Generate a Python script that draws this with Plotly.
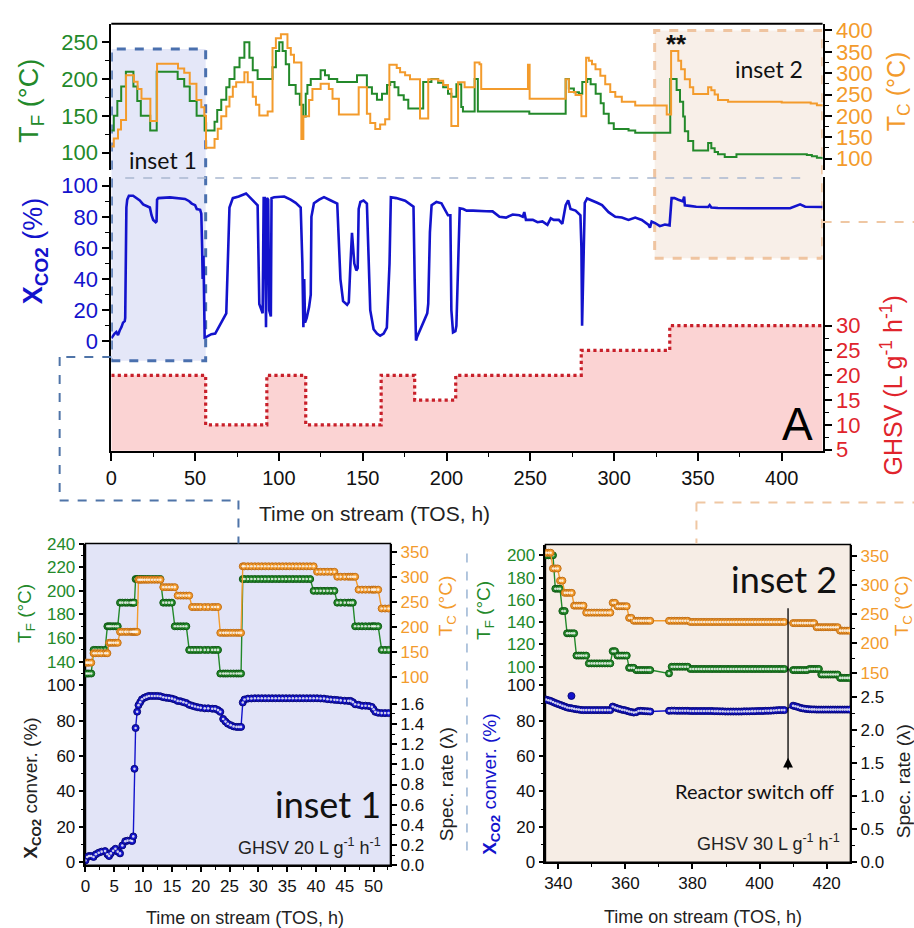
import plotly.graph_objects as go

W, H = 914, 928


def fx(p):
    return p / W


def fy(p):
    return 1 - p / H


SANS = "Liberation Sans, Arial, sans-serif"
HUM = "Lato, Open Sans, sans-serif"

GREEN = "#23892a"
ORANGE = "#f39b2c"
BLUE = "#1313cc"
RED = "#e0242c"
DOTRED = "#c8202a"

# ---------------- main panel: furnace temperature T_F (step changes) ----------------
TF_T = [0, 1.5, 3.6, 5.9, 8.7, 13.2, 15.5, 17.6, 23.2, 27.1,
        39.6, 43.5, 46.8, 50.9, 55.7, 61.6, 63.2, 65.6, 68.6, 70.5,
        73.5, 76.5, 79.4, 82.4, 84.4, 87.3, 96.2, 98.2, 100.2, 102.2,
        104.1, 106.1, 110.0, 112.5, 114.5, 116.0, 117.0, 119.0, 124.9, 127.5,
        129.8, 134.8, 146.6, 152.5, 155.5, 158.5, 161.5, 164.5, 166.4, 169.0,
        171.3, 174.5, 177.2, 186.1, 191.0, 195.0, 198.0, 200.9, 202.9, 205.9,
        208.8, 209.8, 216.8, 218.7, 249.4, 271.1, 273.0, 276.0, 279.0, 281.0,
        284.0, 286.0, 289.0, 292.0, 293.8, 296.8, 299.8, 308.6, 312.6, 333.5,
        337.3, 339.3, 341.2, 342.2, 344.2, 347.2, 356.1, 358.0, 360.0, 362.0,
        366.0, 373.0, 415.0, 418.0, 421.0, 424.4]
TF_V = [130, 150, 170, 190, 210, 190, 170, 150, 130, 210,
        200, 190, 170, 150, 130, 142, 158, 172, 189, 200,
        216, 229, 250, 229, 212, 200, 216, 238, 250, 238,
        220, 192, 180, 165, 149, 180, 192, 200, 212, 205,
        200, 196, 205, 189, 180, 172, 180, 192, 196, 189,
        178, 172, 160, 196, 200, 195, 189, 180, 176, 193,
        162, 156, 200, 156, 153, 200, 187, 182, 180, 196,
        200, 193, 180, 167, 153, 140, 132, 130, 127, 200,
        185, 169, 149, 129, 116, 103, 113, 106, 101, 98,
        94, 98, 97, 95, 93, 91]

# ---------------- main panel: catalyst temperature T_C ----------------
TC_T = [0, 1.5, 4.0, 5.8, 8.8, 13.5, 15.7, 18.0, 23.3, 27.3,
        39.8, 43.5, 46.8, 50.8, 53.7, 55.5, 56.5, 61.6, 63.5, 65.6,
        68.6, 70.5, 72.5, 74.5, 79.4, 81.4, 84.4, 86.3, 88.3, 93.3,
        96.2, 98.2, 101.2, 105.1, 107.1, 109.0, 113.4, 114.6, 118.0, 120.0,
        124.9, 129.8, 132.0, 135.8, 147.6, 152.5, 154.5, 157.5, 160.4, 163.4,
        165.9, 170.3, 172.3, 175.3, 178.2, 184.2, 189.1, 195.0, 198.0, 200.9,
        202.9, 206.9, 210.8, 216.8, 219.7, 220.7, 248.6, 249.6, 271.1, 273.0,
        277.0, 280.5, 283.3, 284.9, 286.8, 288.9, 291.8, 294.7, 297.7, 300.7,
        304.6, 312.6, 331.4, 334.0, 338.3, 340.0, 342.2, 345.2, 347.2, 356.1,
        358.0, 360.0, 362.0, 368.0, 400.0, 417.3, 421.0, 424.4]
TC_V = [128, 147, 168, 190, 295, 280, 263, 240, 188, 322,
        311, 301, 275, 237, 220, 200, 125, 146, 170, 199,
        222, 245, 268, 279, 302, 279, 245, 226, 201, 210,
        359, 382, 391, 359, 343, 325, 146, 199, 237, 263,
        275, 263, 240, 203, 267, 205, 183, 169, 180, 192,
        320, 312, 302, 295, 286, 194, 286, 282, 272, 263,
        176, 279, 267, 325, 321, 263, 320, 240, 286, 256,
        249, 199, 336, 329, 321, 309, 294, 274, 256, 245,
        233, 224, 203, 352, 329, 309, 286, 267, 251, 267,
        260, 250, 237, 233, 231, 229, 225, 222]

# ---------------- main panel: CO2 conversion ----------------
XM_T = [0, 1, 2, 3, 4, 5, 6, 7, 8, 8.3,
        8.5, 8.7, 9.0, 9.5, 10.5, 13, 15, 17, 19, 21,
        23, 24, 25, 26.5, 27.0, 27.3, 28, 35, 40, 44,
        46.5, 48, 50, 51, 53, 53.7, 54.2, 54.5, 55.0, 55.5,
        55.7, 57, 59.7, 62, 64.6, 66.5, 68.6, 69.5, 70.5, 72.5,
        76, 80.4, 84, 87.3, 88.3, 90.3, 90.9, 91.6, 92.3, 92.9,
        93.6, 94.2, 95.2, 95.6, 97.2, 103.2, 107, 110, 113, 114,
        114.6, 115.1, 115.6, 116.6, 118, 119, 119.4, 120.9, 124, 126.9,
        131, 134.8, 136.7, 138.3, 140.7, 141.7, 142.7, 143.6, 145, 146.2,
        147, 147.6, 148.6, 150.5, 152.5, 153.5, 154.5, 156.5, 158.5, 160.4,
        162.5, 164.4, 166, 166.8, 170, 175.3, 178, 180.3, 181, 181.8,
        182.5, 185.2, 186.1, 188.5, 189.1, 190.1, 191.1, 194, 197, 200.9,
        202.3, 202.9, 203.9, 205.3, 205.9, 206.9, 207.9, 210, 212, 215.8,
        220, 223.7, 227.5, 231.6, 235.5, 239.5, 243.5, 245.5, 246.4, 247.4,
        251.5, 254.3, 257.2, 260.2, 262.2, 264, 267, 269.1, 271.1, 272.6,
        274, 277, 279.9, 280.5, 280.9, 281.7, 282.5, 283.9, 287, 289.9,
        292.8, 296.7, 300.7, 304.6, 308.6, 310.6, 312.6, 316.5, 320.4, 321.4,
        322.4, 324.4, 327.3, 330.3, 333.1, 334.3, 336, 338.3, 341, 341.8,
        342.2, 345, 349, 356.1, 357, 358, 362, 380, 405, 411,
        414, 424.4]
XM_V = [2, 4, 5, 6, 4, 7, 9, 12, 13, 15,
        53, 76, 86, 91, 93.5, 93.5, 92, 90.5, 88, 87,
        86, 81, 78, 76.5, 77, 91, 92, 92.5, 92, 91.5,
        90, 88.5, 87.5, 85, 84.5, 82, 60, 40, 55, 10,
        2.5, 3, 4.6, 5, 10, 13, 18, 50, 86, 92,
        93, 95, 91, 87.4, 24, 18, 92, 92, 9, 92,
        91, 20, 16, 92, 92.6, 93, 91, 89, 86, 50,
        9, 40, 12, 15, 22, 30, 80, 88.7, 91, 92.6,
        90.5, 88.5, 40, 25.8, 23.5, 25, 50, 69.7, 50, 45.5,
        47, 85, 89.5, 90.5, 88.5, 50, 20, 7.8, 5, 3.6,
        5, 8.8, 50, 92.6, 92, 90.3, 88.5, 86.5, 40, 0.5,
        3, 10, 12, 18, 24, 70, 87.4, 89.5, 88.7, 81,
        81, 20, 5.7, 6.5, 10, 50, 85.5, 85, 84, 84,
        84, 83.6, 83.5, 80, 79.5, 81.5, 81, 80, 83, 78,
        78, 76.5, 77, 74.8, 79, 78, 78, 75.5, 87.4, 90.6,
        85, 84, 81, 60, 10, 50, 89, 91.8, 90.5, 89,
        87.5, 83, 80, 79.5, 78, 79, 79.5, 78, 75, 73,
        77, 76, 74, 75, 74.5, 92, 92, 91, 90, 93,
        87.4, 87, 86.5, 86.3, 87.5, 86, 85.7, 85.5, 85.5, 88,
        86.5, 86.3]

# ---------------- main panel: GHSV program ----------------
GHSV_T = [0, 56.3, 92.8, 116, 161, 181, 205.5, 280.4, 333.2, 424.4]
GHSV_V = [20, 10, 20, 10, 20, 15, 20, 25, 30, 30]

# ---------------- inset 1 (0-53 h, GHSV 20) ----------------
X1_T = [0.0, 0.3, 0.6, 1.0, 1.4, 1.8, 2.3, 2.8, 3.4, 3.8,
        4.1, 4.4, 4.8, 5.2, 5.6, 6.0, 6.4, 6.9, 7.3, 7.8,
        8.1, 8.3, 8.5, 8.7, 8.97, 9.2, 9.5, 9.8, 10.2, 10.6,
        11.0, 11.5, 12.0, 12.5, 13.0, 13.5, 14.0, 14.5, 15.0, 15.5,
        16.0, 16.5, 17.0, 17.5, 18.0, 18.5, 19.0, 19.5, 20.0, 20.7,
        21.3, 22.0, 22.5, 23.0, 23.4, 23.9, 24.3, 24.7, 25.2, 25.7,
        26.2, 26.6, 27.0, 27.3, 27.6, 28.2, 28.8, 29.4, 30.0, 30.6,
        31.2, 31.8, 32.4, 33.0, 33.6, 34.2, 34.8, 35.4, 36.0, 36.6,
        37.2, 37.8, 38.4, 39.0, 39.6, 40.2, 40.8, 41.4, 42.0, 42.6,
        43.2, 43.7, 44.3, 45.0, 45.6, 46.0, 46.4, 46.8, 47.4, 48.0,
        48.6, 49.2, 49.7, 50.0, 50.3, 50.8, 51.4, 52.0, 52.6]
X1_V = [1.0, 3.0, 3.5, 3.5, 3.0, 4.5, 5.4, 6.0, 6.3, 4.5,
        3.5, 5.0, 6.5, 7.6, 6.0, 5.0, 9.5, 11.9, 12.2, 12.3,
        12.0, 14.6, 52.8, 75.9, 85.1, 88.8, 90.5, 92.1, 93.0, 93.5,
        94.0, 94.0, 94.0, 94.0, 93.8, 93.3, 93.0, 92.8, 92.5, 92.0,
        91.2, 91.0, 90.5, 90.0, 89.0, 88.5, 88.0, 87.6, 87.3, 87.0,
        87.0, 86.8, 86.7, 86.0, 85.0, 81.0, 79.5, 78.3, 77.5, 76.8,
        76.5, 76.5, 76.5, 90.3, 92.0, 92.5, 92.6, 92.7, 92.7, 92.7,
        92.7, 92.7, 92.7, 92.7, 92.7, 92.7, 92.7, 92.7, 92.7, 92.7,
        92.7, 92.7, 92.7, 92.7, 92.7, 92.7, 92.6, 92.5, 92.2, 92.0,
        91.8, 91.7, 91.5, 91.3, 91.2, 91.2, 90.5, 89.3, 89.0, 88.5,
        88.5, 88.3, 87.8, 86.5, 85.0, 84.5, 84.3, 84.3, 84.3]
TF1_START = [0, 1.4, 3.6, 6.0, 8.7, 13.3, 15.5, 17.6, 23.2, 27.2, 39.5, 43.5, 46.8, 50.9]
TF1_LEVEL = [130, 150, 170, 190, 210, 190, 170, 150, 130, 210, 200, 190, 170, 150]
TC1_START = [0, 1.4, 3.9, 5.9, 9.0, 13.5, 15.9, 18.2, 23.4, 27.3, 39.8, 43.6, 47.0, 51.1]
TC1_LEVEL = [128, 147, 168, 190, 295, 280, 263, 240, 188, 322, 311, 301, 275, 237]

# ---------------- inset 2 (336-427 h, GHSV 30) ----------------
X2_T = [336.3, 337.0, 337.7, 338.4, 339.1, 339.8, 340.5, 341.2, 341.9, 342.6,
        343.3, 344.0, 344.7, 345.4, 346.1, 346.8, 347.5, 348.3, 349.1, 349.9,
        350.7, 351.5, 352.3, 353.1, 353.9, 354.7, 355.5, 356.2, 356.9, 357.6,
        358.3, 359.0, 359.7, 360.4, 361.1, 361.8, 362.5, 363.2, 363.9, 364.6,
        365.3, 366.0, 366.7, 367.4, 373.0, 373.8, 374.6, 375.4, 376.2, 377.0,
        377.8, 378.6, 379.4, 380.2, 381.0, 381.8, 382.6, 383.4, 384.2, 385.0,
        385.8, 386.6, 387.4, 388.2, 389.0, 389.8, 390.6, 391.4, 392.2, 393.0,
        393.8, 394.6, 395.4, 396.2, 397.0, 397.8, 398.6, 399.4, 400.2, 401.0,
        401.8, 402.6, 403.4, 404.2, 405.0, 405.8, 406.6, 407.4, 410.0, 410.7,
        411.4, 412.1, 412.8, 413.5, 414.2, 414.9, 415.6, 416.3, 417.0, 417.7,
        418.4, 419.1, 419.8, 420.5, 421.2, 421.9, 422.6, 423.3, 424.0, 424.7,
        425.4, 426.1, 426.8]
X2_V = [92.0, 91.6, 91.2, 90.6, 90.0, 89.5, 89.0, 88.5, 88.0, 87.5,
        87.2, 87.0, 86.7, 86.5, 86.3, 86.1, 86.0, 86.0, 86.0, 86.0,
        86.0, 86.0, 86.0, 86.0, 86.0, 86.0, 86.0, 88.0, 87.5, 87.0,
        86.6, 86.2, 86.0, 85.6, 85.2, 84.9, 84.6, 84.8, 85.5, 85.6,
        85.5, 85.4, 85.3, 85.2, 85.6, 85.7, 85.7, 85.6, 85.6, 85.6,
        85.6, 85.6, 85.5, 85.5, 85.5, 85.5, 85.5, 85.5, 85.5, 85.5,
        85.5, 85.4, 85.4, 85.3, 85.3, 85.2, 85.2, 85.2, 85.2, 85.2,
        85.2, 85.2, 85.3, 85.3, 85.3, 85.4, 85.4, 85.5, 85.5, 85.5,
        85.6, 85.6, 85.7, 85.8, 85.9, 86.0, 86.0, 86.0, 88.5, 88.2,
        87.8, 87.3, 87.0, 86.8, 86.6, 86.5, 86.4, 86.4, 86.3, 86.3,
        86.3, 86.3, 86.3, 86.3, 86.3, 86.3, 86.3, 86.3, 86.3, 86.3,
        86.3, 86.3, 86.3]
X2_OUTLIER_T = [343.9]
X2_OUTLIER_V = [94.0]
TF2_START = [336.0, 338.9, 340.6, 342.2, 345.0, 348.6, 356.0, 357.2, 361.0, 363.0,
             372.5, 373.5, 379.0, 409.5, 414.5, 418.0, 423.5]
TF2_LEVEL = [200, 170, 150, 130, 110, 103, 114, 110, 99, 97,
             94, 100, 98, 97, 98, 93, 90]
TC2_START = [336.0, 338.2, 340.0, 341.6, 344.5, 348.3, 356.0, 357.0, 360.8, 362.5,
             372.5, 379.0, 409.5, 417.0, 423.5]
TC2_LEVEL = [356, 329, 308, 287, 265, 253, 270, 264, 244, 239,
             239, 237, 235, 228, 222]
SWITCH_OFF_T = 408.5


def level_at(t, starts, levels):
    """Set-point level in force at time t for a step programme."""
    val = levels[0]
    for s, v in zip(starts, levels):
        if t >= s:
            val = v
    return val


TF1_V = [level_at(t, TF1_START, TF1_LEVEL) for t in X1_T]
TC1_V = [level_at(t, TC1_START, TC1_LEVEL) for t in X1_T]
TF2_V = [level_at(t, TF2_START, TF2_LEVEL) for t in X2_T]
TC2_V = [level_at(t, TC2_START, TC2_LEVEL) for t in X2_T]

fig = go.Figure()

# ---- main panel traces ----
fig.add_trace(go.Scatter(x=GHSV_T, y=GHSV_V, xaxis="x", yaxis="y4", mode="lines",
                         line=dict(color=DOTRED, width=3.2, dash="dot", shape="hv"),
                         fill="tozeroy", fillcolor="#fbd3d3", hoverinfo="skip"))
fig.add_trace(go.Scatter(x=TF_T, y=TF_V, xaxis="x", yaxis="y", mode="lines",
                         line=dict(color=GREEN, width=2, shape="hv"), hoverinfo="skip"))
fig.add_trace(go.Scatter(x=TC_T, y=TC_V, xaxis="x", yaxis="y3", mode="lines",
                         line=dict(color=ORANGE, width=2, shape="hv"), hoverinfo="skip"))
fig.add_trace(go.Scatter(x=XM_T, y=XM_V, xaxis="x", yaxis="y2", mode="lines",
                         line=dict(color=BLUE, width=2.6), hoverinfo="skip"))


def beads(t, v, color, edge, xa, ya):
    """Connected bead markers: a coloured ball with a pale highlight."""
    fig.add_trace(go.Scatter(x=t, y=v, xaxis=xa, yaxis=ya, mode="lines+markers",
                             line=dict(color=color, width=1.4),
                             marker=dict(size=7, color=color, line=dict(color=edge, width=1)),
                             hoverinfo="skip"))
    fig.add_trace(go.Scatter(x=t, y=v, xaxis=xa, yaxis=ya, mode="markers",
                             marker=dict(size=2.6, color="rgba(255,255,255,0.8)"),
                             hoverinfo="skip"))


# ---- inset 1 ----
beads(X1_T, TF1_V, GREEN, "#0f5a14", "x2", "y5")
beads(X1_T, TC1_V, ORANGE, "#c26f16", "x2", "y7")
beads(X1_T, X1_V, BLUE, "#08087a", "x2", "y6")
fig.add_trace(go.Scatter(x=[], y=[], xaxis="x2", yaxis="y8", mode="markers", hoverinfo="skip"))

# ---- inset 2 ----
beads(X2_T, TF2_V, GREEN, "#0f5a14", "x3", "y9")
beads(X2_T, TC2_V, ORANGE, "#c26f16", "x3", "y11")
beads(X2_T, X2_V, BLUE, "#08087a", "x3", "y10")
fig.add_trace(go.Scatter(x=X2_OUTLIER_T, y=X2_OUTLIER_V, xaxis="x3", yaxis="y10", mode="markers",
                         marker=dict(size=7, color=BLUE, line=dict(color="#08087a", width=1)),
                         hoverinfo="skip"))
fig.add_trace(go.Scatter(x=[], y=[], xaxis="x3", yaxis="y12", mode="markers", hoverinfo="skip"))


def ax(**kw):
    base = dict(showgrid=False, zeroline=False, showline=True, linecolor="black", linewidth=2,
                ticks="outside", tickcolor="black", tickwidth=1.5, ticklen=7,
                tickfont=dict(family=SANS, size=21, color="black"))
    base.update(kw)
    return base


def minor(vals, length=4):
    return dict(tickvals=vals, ticks="outside", ticklen=length, tickcolor="black", tickwidth=1.3)


def tfont(color, size=21):
    return dict(family=SANS, size=size, color=color)


MAIN_X = [fx(106), fx(822)]
TOP_DOM = [fy(165), fy(15)]
BOT_DOM = [fy(452), fy(172)]

IN1_X = [fx(80), fx(387)]
IN1_TOP = [fy(692), fy(547)]
IN1_BOT = [fy(876), fy(692)]
IN2_X = [fx(543), fx(850)]
IN2_TOP = [fy(692), fy(548)]
IN2_BOT = [fy(873), fy(692)]

layout = dict(
    width=W, height=H, margin=dict(l=0, r=0, t=0, b=0),
    paper_bgcolor="white", plot_bgcolor="rgba(0,0,0,0)", showlegend=False,
    xaxis=ax(domain=MAIN_X, range=[0, 424.4], anchor="y2", tickvals=list(range(0, 401, 50)),
             minor=minor(list(range(25, 400, 50))), tickfont=tfont("#111", 20), ticklen=8),
    yaxis=ax(domain=TOP_DOM, range=[76.1, 275.2], anchor="x", tickvals=[100, 150, 200, 250],
             minor=minor([125, 175, 225]), tickfont=tfont(GREEN, 22)),
    yaxis3=ax(overlaying="y", side="right", anchor="x", range=[72.5, 416],
              tickvals=[100, 150, 200, 250, 300, 350, 400],
              minor=minor([125, 175, 225, 275, 325, 375]), tickfont=tfont(ORANGE, 22)),
    yaxis2=ax(domain=BOT_DOM, range=[-70.3, 105.5], anchor="x", tickvals=[0, 20, 40, 60, 80, 100],
              minor=minor([10, 30, 50, 70, 90]), tickfont=tfont(BLUE, 22)),
    yaxis4=ax(overlaying="y2", side="right", anchor="x", range=[4.8, 59.9],
              tickvals=[5, 10, 15, 20, 25, 30], minor=minor([7.5, 12.5, 17.5, 22.5, 27.5]),
              tickfont=tfont(RED, 22)),
    # inset 1
    xaxis2=ax(domain=IN1_X, range=[0, 52.93], anchor="y6", linewidth=1.5,
              tickvals=list(range(0, 51, 5)), minor=minor([2.5 + 5 * i for i in range(11)], 3),
              tickfont=tfont("#111", 17), ticklen=5),
    yaxis5=ax(domain=IN1_TOP, range=[120, 240], anchor="x2", linewidth=1.5, ticklen=5,
              tickvals=[120, 140, 160, 180, 200, 220, 240],
              ticktext=["", "140", "160", "180", "200", "220", "240"],
              minor=minor([130, 150, 170, 190, 210, 230], 3), tickfont=tfont(GREEN, 17)),
    yaxis6=ax(domain=IN1_BOT, range=[-1.66, 100], anchor="x2", linewidth=1.5, ticklen=5,
              tickvals=[0, 20, 40, 60, 80, 100], minor=minor([10, 30, 50, 70, 90], 3),
              tickfont=tfont("#111", 17)),
    yaxis7=ax(overlaying="y5", side="right", anchor="x2", range=[82.3, 367.7], linewidth=1.5,
              ticklen=5, tickvals=[100, 150, 200, 250, 300, 350],
              minor=minor([125, 175, 225, 275, 325], 3), tickfont=tfont(ORANGE, 17)),
    yaxis8=ax(overlaying="y6", side="right", anchor="x2", range=[0, 1.784], linewidth=1.5,
              ticklen=5, tickvals=[0.2 * i for i in range(9)], tickformat=".1f",
              minor=minor([0.1 + 0.2 * i for i in range(8)], 3), tickfont=tfont("#111", 17)),
    # inset 2
    xaxis3=ax(domain=IN2_X, range=[336.15, 427.1], anchor="y10", linewidth=1.5,
              tickvals=[340, 360, 380, 400, 420], minor=minor([350, 370, 390, 410], 3),
              tickfont=tfont("#111", 17), ticklen=5),
    yaxis9=ax(domain=IN2_TOP, range=[83.3, 209.6], anchor="x3", linewidth=1.5, ticklen=5,
              tickvals=[100, 120, 140, 160, 180, 200], minor=minor([90, 110, 130, 150, 170, 190], 3),
              tickfont=tfont(GREEN, 17)),
    yaxis10=ax(domain=IN2_BOT, range=[0, 100], anchor="x3", linewidth=1.5, ticklen=5,
               tickvals=[0, 20, 40, 60, 80, 100], minor=minor([10, 30, 50, 70, 90], 3),
               tickfont=tfont("#111", 17)),
    yaxis11=ax(overlaying="y9", side="right", anchor="x3", range=[128, 370], linewidth=1.5,
               ticklen=5, tickvals=[150, 200, 250, 300, 350], minor=minor([175, 225, 275, 325], 3),
               tickfont=tfont(ORANGE, 17)),
    yaxis12=ax(overlaying="y10", side="right", anchor="x3", range=[0, 2.68], linewidth=1.5,
               ticklen=5, tickvals=[0, 0.5, 1.0, 1.5, 2.0, 2.5], tickformat=".1f",
               minor=minor([0.25, 0.75, 1.25, 1.75, 2.25], 3), tickfont=tfont("#111", 17)),
)

shapes = []


def pline(x0, y0, x1, y1, color, width=2, dash="dash"):
    shapes.append(dict(type="line", xref="paper", yref="paper", x0=fx(x0), y0=fy(y0),
                       x1=fx(x1), y1=fy(y1), line=dict(color=color, width=width, dash=dash)))


# highlighted regions in the main panel
shapes.append(dict(type="rect", xref="x", yref="paper", x0=0, x1=56.3, y0=fy(360), y1=fy(41),
                   fillcolor="#e4e7f8", line=dict(color="#4a70ae", width=3, dash="dash"),
                   layer="below"))
shapes.append(dict(type="rect", xref="x", yref="paper", x0=324.2, x1=424.4, y0=fy(255), y1=fy(22),
                   fillcolor="#f8efe8", line=dict(color="#efc4a0", width=3, dash="dash"),
                   layer="below"))
# inset frames
shapes.append(dict(type="rect", xref="paper", yref="paper", x0=fx(80), x1=fx(387), y0=fy(876),
                   y1=fy(547), fillcolor="#e2e4f7", line=dict(color="black", width=1.5),
                   layer="below"))
shapes.append(dict(type="rect", xref="paper", yref="paper", x0=fx(543), x1=fx(850), y0=fy(873),
                   y1=fy(548), fillcolor="#f6ede5", line=dict(color="black", width=1.5),
                   layer="below"))
# top border of the main panel
pline(106, 15, 822, 15, "black", 2, "solid")
# separator between temperature and conversion panels
pline(120, 173, 800, 173, "#a9b8cf", 1.5, "dash")
# connectors to inset 1
for seg in [(106, 356, 54, 356), (54, 356, 54, 503), (54, 503, 234, 503), (234, 503, 234, 547)]:
    pline(*seg, "#4f74a8", 2, "dash")
# connectors to inset 2
for seg in [(822, 218, 914, 218), (695, 505, 914, 505), (695, 505, 695, 547)]:
    pline(*seg, "#efc7a3", 2, "dash")
# divider between the insets
pline(464, 557, 464, 862, "#9ab4d4", 1.5, "dash")
# reactor switch-off marker
shapes.append(dict(type="line", xref="x3", yref="paper", x0=SWITCH_OFF_T, x1=SWITCH_OFF_T,
                   y0=fy(613), y1=fy(778), line=dict(color="black", width=1.3)))
layout["shapes"] = shapes

annotations = []


def note(text, x, y, size, color="black", family=SANS, angle=0, **kw):
    annotations.append(dict(text=text, xref="paper", yref="paper", x=fx(x), y=fy(y),
                            xanchor="center", yanchor="middle", showarrow=False,
                            textangle=angle, font=dict(family=family, size=size, color=color), **kw))


# main panel labels
note("T<sub>F</sub> (°C)", 25, 94, 27, GREEN, angle=-90)
note("<b>X<sub>CO2</sub></b> (%)", 30, 248, 27, BLUE, angle=-90)
note("T<sub>C</sub> (°C)", 898, 84, 25, ORANGE, angle=-90)
note("GHSV (L g<sup>-1</sup> h<sup>-1</sup>)", 892, 385, 25, RED, angle=-90)
note("Time on stream (TOS, h)", 371, 516, 21, "#222")
note("inset 1", 158, 154, 23, "#111", HUM)
note("inset 2", 768, 61, 23, "#111", HUM)
note("<b>**</b>", 675, 36, 26, "#111", SANS)
note("A", 797, 425, 46, "black", SANS)

# inset 1 labels
note("T<sub>F</sub> (°C)", 20, 618, 19, GREEN, angle=-90)
note("<b>X<sub>CO2</sub></b> conver. (%)", 26, 797, 19, "#222", angle=-90)
note("T<sub>C</sub> (°C)", 444, 611, 19, ORANGE, angle=-90)
note("Spec. rate (λ)", 443, 793, 19, "#222", angle=-90)
note("inset 1", 324, 813, 36, "#111", HUM)
note("GHSV 20 L g<sup>-1</sup> h<sup>-1</sup>", 306, 857, 18, "#222")
note("Time on stream (TOS, h)", 241, 930, 18, "#222")

# inset 2 labels
note("T<sub>F</sub> (°C)", 482, 615, 19, GREEN, angle=-90)
note("<b>X<sub>CO2</sub></b> conver. (%)", 488, 793, 19, BLUE, angle=-90)
note("T<sub>C</sub> (°C)", 903, 611, 19, ORANGE, angle=-90)
note("Spec. rate (λ)", 903, 790, 19, "#222", angle=-90)
note("inset 2", 783, 583, 36, "#111", HUM)
note("Reactor switch off", 754, 800, 20, "#111", HUM)
note("GHSV 30 L g<sup>-1</sup> h<sup>-1</sup>", 768, 853, 18, "#222")
note("Time on stream (TOS, h)", 702, 929, 18, "#222")

annotations.append(dict(text="", x=SWITCH_OFF_T, xref="x3", y=fy(766), yref="paper",
                        showarrow=True, ax=0, ay=12, arrowhead=2, arrowsize=1.3,
                        arrowwidth=1.5, arrowcolor="black"))
layout["annotations"] = annotations

fig.update_layout(**layout)
fig.write_html("out.html")
